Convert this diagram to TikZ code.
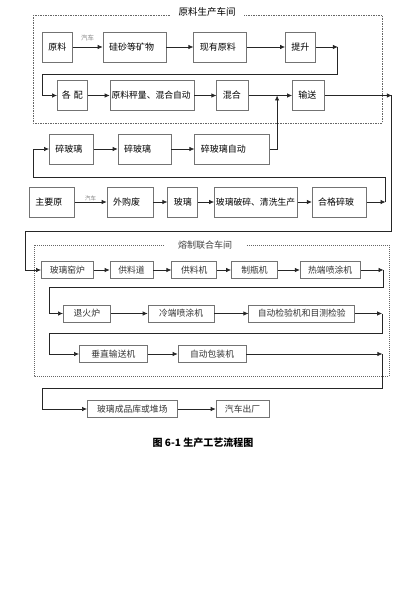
\documentclass[tikz,border=0pt]{standalone}
\usepackage{fontspec}
\setmainfont{Noto Sans CJK SC}
\usepackage{tikz}
\usetikzlibrary{arrows.meta, positioning}
\tikzset{
  box/.style={rectangle, draw=black!55, line width=0.7pt, minimum height=30pt,
    inner ysep=0pt, anchor=west, font=\fontsize{9}{10}\selectfont},
  stage/.style={box, text width=#1-12pt, inner xsep=6pt, align=left},
  widestage/.style={box, text width=#1-3pt, inner xsep=1.5pt, align=left,
    font=\fontsize{8.8}{10}\selectfont},
  machine/.style={rectangle, draw=black!55, line width=0.7pt, minimum height=17pt,
    minimum width=#1, inner sep=0pt, anchor=west, text=black!80,
    font=\fontsize{8.8}{10}\selectfont},
  note/.style={text=black!50, inner sep=1pt, font=\fontsize{6.5}{7}\selectfont},
  zone/.style={draw=black!60, line width=0.7pt, dash pattern=on 1.5pt off 1pt},
  zonetitle/.style={fill=white, inner xsep=8pt, inner ysep=1pt},
  arrow/.style={-{Latex[length=5pt, width=4.5pt]}, line width=0.7pt, black!85}
}
\begin{document}
\begin{tikzpicture}[x=1pt, y=-1pt]
  \useasboundingbox (0,0) rectangle (400,607);

  % workshop frames
  \draw[zone] (33,15) rectangle (382,123);
  \node[zonetitle, font=\fontsize{9.5}{10}\selectfont] (zoneA) at (207,12) {原料生产车间};
  \draw[zone, dash pattern=on 1pt off 1pt] (34,245) rectangle (389,376);
  \node[zonetitle, inner xsep=14pt, text=black!75, font=\fontsize{9}{10}\selectfont] (zoneB) at (205,245) {熔制联合车间};

  % raw material rows
  \node[stage=30pt] (raw) at (42,47) {原料};
  \node[stage=63pt, right=30pt of raw] (sand) {硅砂等矿物};
  \node[stage=53pt, right=27pt of sand] (stock) {现有原料};
  \node[stage=30pt, right=38pt of stock] (lift) {提升};
  \coordinate[right=22pt of lift] (liftR);
  \coordinate (turnA) at (42,74);

  \node[stage=30pt, text width=21pt, inner xsep=4.5pt] (batch) at (57,95.5) {各\kern3pt配};
  \node[widestage=84pt, right=22pt of batch] (weigh) {原料秤量、混合自动};
  \node[stage=32pt, right=22pt of weigh] (mix) {混合};
  \node[stage=32pt, right=43pt of mix] (convey) {输送};
  \coordinate[right=28pt of mix] (joinA);
  \coordinate[right=67pt of convey] (conveyR);
  \coordinate (turnD) at (25,231);

  % cullet rows
  \node[stage=44pt] (cullA) at (49,149) {碎玻璃};
  \node[stage=53pt, right=24pt of cullA] (cullB) {碎玻璃};
  \node[stage=75pt, right=23pt of cullB] (cullC) {碎玻璃自动};

  \node[stage=45pt] (main) at (29,202) {主要原};
  \node[stage=46pt, right=32pt of main] (bought) {外购废};
  \node[stage=30pt, right=14pt of bought] (glass) {玻璃};
  \node[widestage=83pt, right=16pt of glass] (wash) {玻璃破碎、清洗生产};
  \node[stage=54pt, right=14pt of wash] (good) {合格碎玻};
  \coordinate[right=19pt of good] (goodR);
  \coordinate (turnC) at (33,177);

  % melting and forming rows
  \node[machine=52pt] (kiln) at (41,270) {玻璃窑炉};
  \node[machine=43pt, right=16pt of kiln] (channel) {供料道};
  \node[machine=45pt, right=18pt of channel] (feeder) {供料机};
  \node[machine=46pt, right=14pt of feeder] (former) {制瓶机};
  \node[machine=60pt, right=22pt of former] (hotcoat) {热端喷涂机};
  \coordinate[right=23pt of hotcoat] (hotR);
  \coordinate (turnE) at (49,287);

  \node[machine=47pt] (lehr) at (63,313.5) {退火炉};
  \node[machine=66pt, right=37pt of lehr] (coldcoat) {冷端喷涂机};
  \node[machine=106pt, right=34pt of coldcoat] (inspect) {自动检验机和目测检验};
  \coordinate[right=27pt of inspect] (inspR);
  \coordinate (turnF) at (49,333);

  \node[machine=68pt] (vert) at (79,354) {垂直输送机};
  \node[machine=68pt, right=30pt of vert] (pack) {自动包装机};
  \coordinate[right=136pt of pack] (packR);
  \coordinate (turnG) at (42,388);

  \node[machine=90pt] (store) at (87,409) {玻璃成品库或堆场};
  \node[machine=53pt, right=38pt of store] (truck) {汽车出厂};

  \node[font=\fontsize{10}{12}\selectfont\bfseries] (caption) at (203,443) {图 6-1 生产工艺流程图};

  % connectors
  \draw[arrow] (raw) -- node[note, above=5pt] (carA) {汽车} (sand);
  \draw[arrow] (sand) -- (stock);
  \draw[arrow] (stock) -- (lift);
  \draw[arrow] (lift) -- (liftR);
  \draw[arrow] (liftR) |- (turnA) |- (batch);

  \draw[arrow] (batch) -- (weigh);
  \draw[arrow] (weigh) -- (mix);
  \draw[arrow] (mix) -- (convey);
  \draw[arrow] (convey) -- (conveyR);
  \draw[arrow] (conveyR) |- (turnD) |- (kiln);

  \draw[arrow] (cullA) -- (cullB);
  \draw[arrow] (cullB) -- (cullC);
  \draw[arrow] (cullC) -| (joinA);

  \draw[arrow] (main) -- node[note, above=0pt, font=\fontsize{5.5}{6}\selectfont] (carB) {汽车} (bought);
  \draw[arrow] (bought) -- (glass);
  \draw[arrow] (glass) -- (wash);
  \draw[arrow] (wash) -- (good);
  \draw[arrow] (good) -- (goodR);
  \draw[arrow] (goodR) |- (turnC) |- (cullA);

  \draw[arrow] (kiln) -- (channel);
  \draw[arrow] (channel) -- (feeder);
  \draw[arrow] (feeder) -- (former);
  \draw[arrow] (former) -- (hotcoat);
  \draw[arrow] (hotcoat) -- (hotR);
  \draw[arrow] (hotR) |- (turnE) |- (lehr);

  \draw[arrow] (lehr) -- (coldcoat);
  \draw[arrow] (coldcoat) -- (inspect);
  \draw[arrow] (inspect) -- (inspR);
  \draw[arrow] (inspR) |- (turnF) |- (vert);

  \draw[arrow] (vert) -- (pack);
  \draw[arrow] (pack) -- (packR);
  \draw[arrow] (packR) |- (turnG) |- (store);
  \draw[arrow] (store) -- (truck);
\end{tikzpicture}
\end{document}
